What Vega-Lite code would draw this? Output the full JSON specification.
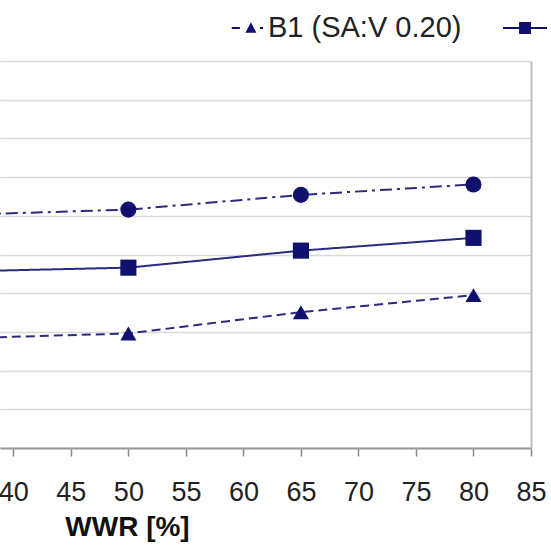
{
  "$schema": "https://vega.github.io/schema/vega-lite/v6.json",
  "width": 531,
  "height": 387,
  "autosize": {"type": "none"},
  "padding": {"top": 61, "left": 0, "right": 20, "bottom": 102},
  "background": "white",
  "config": {
    "view": {"stroke": null},
    "font": "Liberation Sans"
  },
  "data": {
    "values": [
      {"wwr": 35, "value": 28.3, "series": "B1 (SA:V 0.20)"},
      {"wwr": 50, "value": 29.6, "series": "B1 (SA:V 0.20)"},
      {"wwr": 65, "value": 35.1, "series": "B1 (SA:V 0.20)"},
      {"wwr": 80, "value": 39.5, "series": "B1 (SA:V 0.20)"},
      {"wwr": 35, "value": 45.6, "series": "B2 (SA:V 0.30)"},
      {"wwr": 50, "value": 46.6, "series": "B2 (SA:V 0.30)"},
      {"wwr": 65, "value": 51.0, "series": "B2 (SA:V 0.30)"},
      {"wwr": 80, "value": 54.3, "series": "B2 (SA:V 0.30)"},
      {"wwr": 35, "value": 60.2, "series": "B3 (SA:V 0.40)"},
      {"wwr": 50, "value": 61.6, "series": "B3 (SA:V 0.40)"},
      {"wwr": 65, "value": 65.4, "series": "B3 (SA:V 0.40)"},
      {"wwr": 80, "value": 68.1, "series": "B3 (SA:V 0.40)"}
    ]
  },
  "encoding": {
    "x": {
      "field": "wwr", "type": "quantitative",
      "scale": {"domain": [38.84, 85], "nice": false, "zero": false},
      "axis": {
        "values": [40, 45, 50, 55, 60, 65, 70, 75, 80, 85],
        "grid": false,
        "title": "WWR [%]",
        "titleFontSize": 28, "titleFontWeight": "bold", "titleColor": "#111",
        "titleX": 127, "titleY": 65,
        "labelFontSize": 27, "labelColor": "#222", "labelPadding": 23,
        "labelFlush": false, "labelOverlap": false,
        "tickColor": "#888", "tickSize": 8, "tickWidth": 1.5,
        "domainColor": "#999", "domainWidth": 2
      }
    },
    "y": {
      "field": "value", "type": "quantitative",
      "scale": {"domain": [0, 100], "nice": false},
      "axis": {
        "orient": "right",
        "values": [0, 10, 20, 30, 40, 50, 60, 70, 80, 90, 100],
        "labels": false, "ticks": false, "title": null,
        "grid": true, "gridColor": "#d9d9d9", "gridWidth": 1.5,
        "domainColor": "#bdbdbd", "domainWidth": 2
      }
    }
  },
  "layer": [
    {
      "mark": {"type": "line", "clip": true, "strokeWidth": 2, "color": "#2a2a80"},
      "encoding": {
        "strokeDash": {
          "field": "series", "type": "nominal",
          "scale": {
            "domain": ["B1 (SA:V 0.20)", "B2 (SA:V 0.30)", "B3 (SA:V 0.40)"],
            "range": [[9, 5], [1, 0], [12, 5, 3, 5]]
          },
          "legend": null
        }
      }
    },
    {
      "mark": {"type": "point", "clip": true, "filled": true, "opacity": 1, "size": 260, "color": "#10106e"},
      "encoding": {
        "shape": {
          "field": "series", "type": "nominal",
          "scale": {
            "domain": ["B1 (SA:V 0.20)", "B2 (SA:V 0.30)", "B3 (SA:V 0.40)"],
            "range": ["triangle-up", "square", "circle"]
          },
          "legend": null
        }
      }
    },
    {
      "mark": {"type": "point", "clip": true, "filled": true, "opacity": 0, "size": 10, "color": "#10106e"},
      "encoding": {
        "shape": {
          "field": "series", "type": "nominal",
          "scale": {
            "domain": ["B1 (SA:V 0.20)", "B2 (SA:V 0.30)", "B3 (SA:V 0.40)"],
            "range": [
              "M-0.42,-0.045H-0.05V0.045H-0.42Z M0.2,0.22L0.45,-0.26L0.7,0.22Z M0.86,-0.045H1V0.045H0.86Z",
              "M-1,-0.045H1V0.045H-1Z M-0.27,-0.27H0.27V0.27H-0.27Z",
              "M-1,-0.045H-0.7V0.045H-1Z M-0.6,-0.045H-0.5V0.045H-0.6Z M-0.3,0A0.3,0.3 0 1,0 0.3,0A0.3,0.3 0 1,0 -0.3,0Z M0.5,-0.045H0.6V0.045H0.5Z M0.7,-0.045H1V0.045H0.7Z"
            ]
          },
          "legend": {
            "title": null,
            "orient": "none",
            "direction": "horizontal",
            "legendX": 219,
            "legendY": -55,
            "padding": 0,
            "columnPadding": 41,
            "labelOffset": 5,
            "labelFont": "Liberation Sans",
            "labelFontSize": 29,
            "labelColor": "#222",
            "labelLimit": 400,
            "symbolSize": 1936,
            "symbolStrokeWidth": 0,
            "symbolFillColor": "#10106e",
            "symbolOpacity": 1
          }
        }
      }
    }
  ],
  "resolve": {"scale": {"shape": "independent"}}
}
